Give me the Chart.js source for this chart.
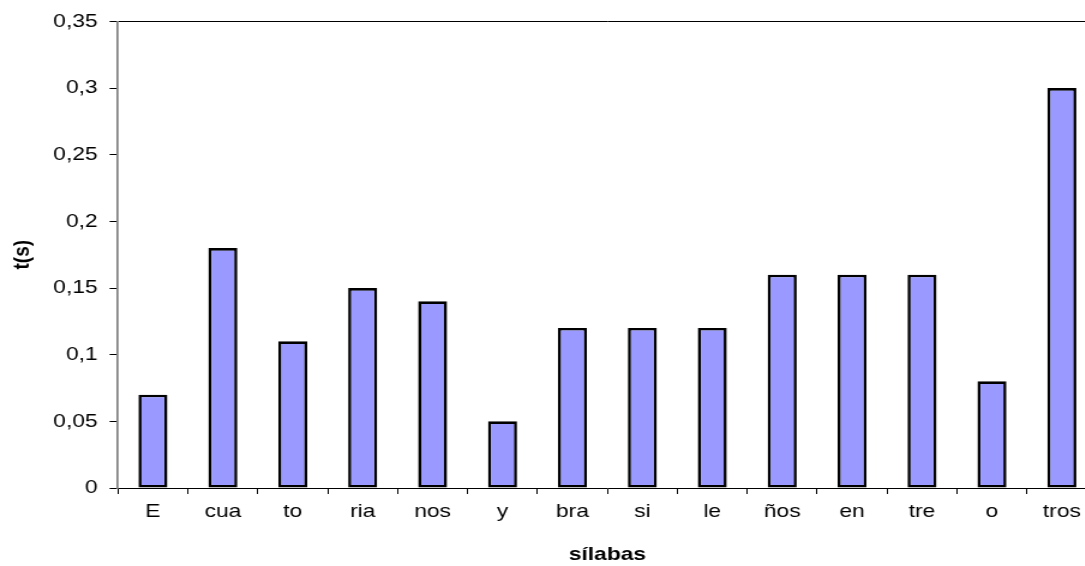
<!DOCTYPE html>
<html>
<head>
<meta charset="utf-8">
<script src="https://cdn.jsdelivr.net/npm/chart.js@4"></script>
<style>
  html, body { margin: 0; padding: 0; background: #fff; overflow: hidden; }
  /* the source chart has wide, stretched lettering: draw narrower and stretch sideways */
  #wrap { width: 917px; height: 566px; transform: scaleX(1.2); transform-origin: 0 0; }
</style>
</head>
<body>
<div id="wrap"><canvas id="chart"></canvas></div>
<script>
// syllables on the x axis
const silabas = ['E', 'cua', 'to', 'ria', 'nos', 'y', 'bra', 'si', 'le', 'ños', 'en', 'tre', 'o', 'tros'];

// duration of each syllable, seconds
const tiempos = [0.07, 0.18, 0.11, 0.15, 0.14, 0.05, 0.12, 0.12, 0.12, 0.16, 0.16, 0.16, 0.08, 0.30];

// y axis range
const yMin = 0;
const yMax = 0.35;
const yStep = 0.05;

const fontFamily = '"Liberation Sans", Arial, sans-serif';

const config = {
  type: 'bar',
  data: {
    labels: silabas,
    datasets: [{
      label: 't(s)',
      data: tiempos,
      backgroundColor: '#9999FF',
      borderColor: '#000000',
      borderWidth: 2.6,
      borderSkipped: false,
      barPercentage: 0.415,
      categoryPercentage: 1.0
    }]
  },
  options: {
    responsive: true,
    maintainAspectRatio: false,
    animation: false,
    layout: { padding: { top: 17, right: 3, left: 0, bottom: 0 } },
    plugins: {
      legend: { display: false },
      tooltip: { enabled: false }
    },
    scales: {
      x: {
        grid: {
          drawOnChartArea: false,
          tickLength: 6,
          offset: true,
          color: '#000000'
        },
        border: { color: '#000000', width: 1 },
        ticks: {
          color: '#000000',
          font: { family: fontFamily, size: 19 },
          padding: 6,
          maxRotation: 0
        },
        title: {
          display: true,
          text: 'sílabas',
          color: '#000000',
          font: { family: fontFamily, size: 19, weight: 'bold' },
          padding: { top: 13, bottom: 0 }
        },
        afterFit: (scale) => { scale.height = 78; }
      },
      y: {
        min: yMin,
        max: yMax,
        grid: {
          drawOnChartArea: true,
          tickLength: 7,
          tickColor: '#000000',
          color: (ctx) => (ctx.tick && ctx.tick.value === yMax ? '#000000' : 'rgba(0,0,0,0)')
        },
        border: { color: '#808080', width: 1.7 },
        ticks: {
          stepSize: yStep,
          color: '#000000',
          font: { family: fontFamily, size: 19 },
          padding: 10,
          callback: (v) => String(Math.round(v * 100) / 100).replace('.', ',')
        },
        title: {
          display: true,
          text: 't(s)',
          color: '#000000',
          font: { family: fontFamily, size: 19, weight: 'bold' },
          padding: { top: 7, bottom: 0 }
        },
        afterFit: (scale) => { scale.width = 98.3; }
      }
    }
  }
};

const chart = new Chart(document.getElementById('chart'), config);
</script>
</body>
</html>
